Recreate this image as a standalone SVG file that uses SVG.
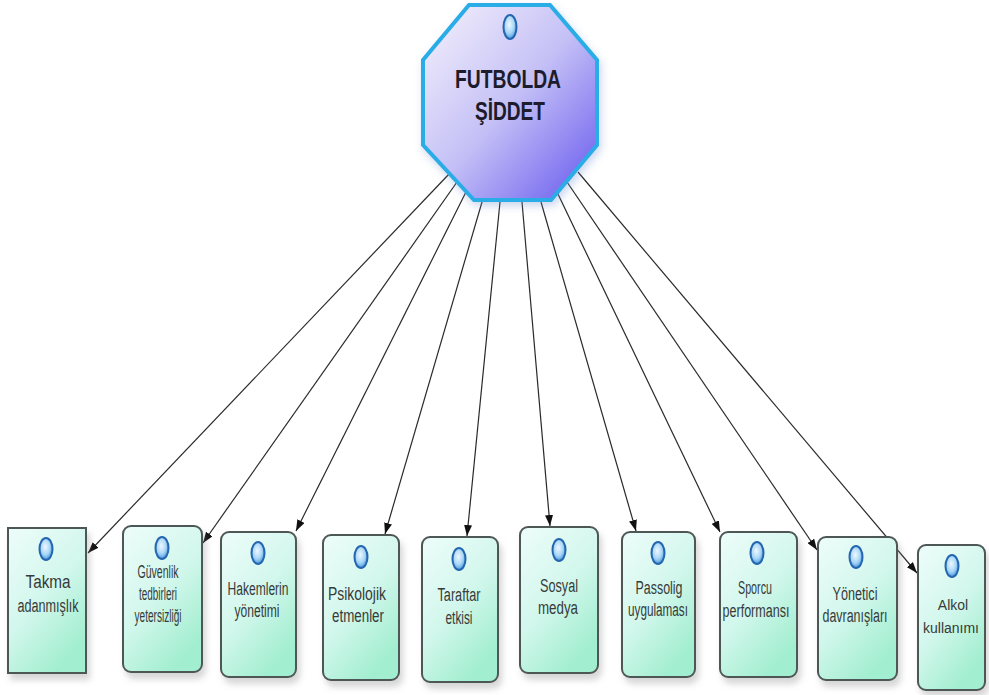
<svg xmlns="http://www.w3.org/2000/svg" width="989" height="695" viewBox="0 0 989 695">
<defs>
  <linearGradient id="octFill" x1="0" y1="0" x2="1" y2="1">
    <stop offset="0" stop-color="#f6f2fc"/>
    <stop offset="0.5" stop-color="#c4c0f6"/>
    <stop offset="1" stop-color="#6656ee"/>
  </linearGradient>
  <linearGradient id="boxFill" x1="0" y1="0" x2="0.6" y2="1">
    <stop offset="0" stop-color="#eefdfa"/>
    <stop offset="0.55" stop-color="#d2f7ec"/>
    <stop offset="1" stop-color="#a2eed0"/>
  </linearGradient>
  <radialGradient id="iconFill" cx="0.45" cy="0.4" r="0.6">
    <stop offset="0" stop-color="#eef8ff"/>
    <stop offset="0.6" stop-color="#a8d6f6"/>
    <stop offset="1" stop-color="#4a98dc"/>
  </radialGradient>
  <filter id="shadow" x="-20%" y="-20%" width="150%" height="150%">
    <feDropShadow dx="3" dy="6" stdDeviation="3" flood-color="#8a8a8a" flood-opacity="0.35"/>
  </filter>
  <filter id="glow" x="-20%" y="-20%" width="140%" height="140%">
    <feDropShadow dx="2" dy="4" stdDeviation="4" flood-color="#6a8ad0" flood-opacity="0.35"/>
  </filter>
  <marker id="arrow" markerUnits="userSpaceOnUse" markerWidth="11" markerHeight="8" refX="11" refY="4" orient="auto">
    <path d="M0,0 L11,4 L0,8 z" fill="#111"/>
  </marker>
  <style>
    .box { fill: url(#boxFill); stroke: #4d5856; stroke-width: 2; filter: url(#shadow); }
    .icon { fill: url(#iconFill); stroke: #2566b0; stroke-width: 2; }
    .lbl { font-family: "Liberation Sans", Arial, sans-serif; font-size: 18px; fill: #363b3a; text-anchor: middle; }
    .sm { font-size: 14px; }
    .title { font-family: "Liberation Sans", Arial, sans-serif; font-size: 25px; font-weight: bold; fill: #1c1c2c; text-anchor: middle; }
    .conn { stroke: #2a2a2a; stroke-width: 1.2; fill: none; marker-end: url(#arrow); }
  </style>
</defs>
<rect width="989" height="695" fill="#ffffff"/>

<g id="connectors">
  <line class="conn" x1="450" y1="173" x2="88" y2="553"/>
  <line class="conn" x1="457" y1="182" x2="203" y2="543"/>
  <line class="conn" x1="466" y1="192" x2="296" y2="531"/>
  <line class="conn" x1="482" y1="202" x2="385" y2="534"/>
  <line class="conn" x1="500" y1="202" x2="467" y2="536"/>
  <line class="conn" x1="522" y1="202" x2="550" y2="526"/>
  <line class="conn" x1="541" y1="202" x2="636" y2="531"/>
  <line class="conn" x1="557" y1="192" x2="720" y2="532"/>
  <line class="conn" x1="567" y1="182" x2="817" y2="550"/>
  <line class="conn" x1="578" y1="172" x2="917" y2="573"/>
</g>

<g id="root">
  <polygon points="469,5 550,5 597,60 597,145 551,200 474,200 423,145 423,60" fill="url(#octFill)" stroke="#29ace6" stroke-width="4" filter="url(#glow)"/>
  <ellipse class="icon" cx="510" cy="27" rx="6.5" ry="12"/>
  <text class="title" x="508" y="88" textLength="106" lengthAdjust="spacingAndGlyphs">FUTBOLDA</text>
  <text class="title" x="510" y="120" textLength="70" lengthAdjust="spacingAndGlyphs">ŞİDDET</text>
</g>

<g id="n1">
  <rect class="box" x="8" y="528" width="78" height="145"/>
  <ellipse class="icon" cx="46" cy="549" rx="6.5" ry="11"/>
  <text class="lbl" x="48" y="588" textLength="45" lengthAdjust="spacingAndGlyphs">Takma</text>
  <text class="lbl" x="48" y="612" textLength="61" lengthAdjust="spacingAndGlyphs">adanmışlık</text>
</g>

<g id="n2">
  <rect class="box" x="123" y="526" width="79" height="146" rx="8"/>
  <ellipse class="icon" cx="162" cy="548" rx="6.5" ry="11"/>
  <text class="lbl" x="158" y="578" textLength="41" lengthAdjust="spacingAndGlyphs">Güvenlik</text>
  <text class="lbl" x="158" y="600" textLength="38" lengthAdjust="spacingAndGlyphs">tedbirleri</text>
  <text class="lbl" x="158" y="622" textLength="47" lengthAdjust="spacingAndGlyphs">yetersizliği</text>
</g>

<g id="n3">
  <rect class="box" x="221" y="532" width="75" height="145" rx="8"/>
  <ellipse class="icon" cx="258" cy="553" rx="6.5" ry="11"/>
  <text class="lbl" x="258" y="595" textLength="61" lengthAdjust="spacingAndGlyphs">Hakemlerin</text>
  <text class="lbl" x="257" y="617" textLength="45" lengthAdjust="spacingAndGlyphs">yönetimi</text>
</g>

<g id="n4">
  <rect class="box" x="323" y="535" width="76" height="145" rx="8"/>
  <ellipse class="icon" cx="361" cy="557" rx="6.5" ry="11"/>
  <text class="lbl" x="357" y="600" textLength="58" lengthAdjust="spacingAndGlyphs">Psikolojik</text>
  <text class="lbl" x="358" y="622" textLength="52" lengthAdjust="spacingAndGlyphs">etmenler</text>
</g>

<g id="n5">
  <rect class="box" x="422" y="537" width="76" height="145" rx="8"/>
  <ellipse class="icon" cx="459" cy="559" rx="6.5" ry="11"/>
  <text class="lbl" x="459" y="601" textLength="43" lengthAdjust="spacingAndGlyphs">Taraftar</text>
  <text class="lbl" x="459" y="624" textLength="27" lengthAdjust="spacingAndGlyphs">etkisi</text>
</g>

<g id="n6">
  <rect class="box" x="520" y="527" width="78" height="146" rx="8"/>
  <ellipse class="icon" cx="559" cy="550" rx="6.5" ry="11"/>
  <text class="lbl" x="559" y="592" textLength="38" lengthAdjust="spacingAndGlyphs">Sosyal</text>
  <text class="lbl" x="558" y="614" textLength="40" lengthAdjust="spacingAndGlyphs">medya</text>
</g>

<g id="n7">
  <rect class="box" x="622" y="532" width="73" height="145" rx="8"/>
  <ellipse class="icon" cx="658" cy="553" rx="6.5" ry="11"/>
  <text class="lbl" x="659" y="594" textLength="47" lengthAdjust="spacingAndGlyphs">Passolig</text>
  <text class="lbl" x="658" y="616" textLength="60" lengthAdjust="spacingAndGlyphs">uygulaması</text>
</g>

<g id="n8">
  <rect class="box" x="720" y="532" width="77" height="145" rx="8"/>
  <ellipse class="icon" cx="757" cy="553" rx="6.5" ry="11"/>
  <text class="lbl" x="755" y="594" textLength="34" lengthAdjust="spacingAndGlyphs">Sporcu</text>
  <text class="lbl" x="756" y="617" textLength="67" lengthAdjust="spacingAndGlyphs">performansı</text>
</g>

<g id="n9">
  <rect class="box" x="818" y="537" width="79" height="143" rx="8"/>
  <ellipse class="icon" cx="856" cy="557" rx="6.5" ry="11"/>
  <text class="lbl" x="855" y="600" textLength="45" lengthAdjust="spacingAndGlyphs">Yönetici</text>
  <text class="lbl" x="855" y="622" textLength="65" lengthAdjust="spacingAndGlyphs">davranışları</text>
</g>

<g id="n10">
  <rect class="box" x="918" y="545" width="67" height="145" rx="8"/>
  <ellipse class="icon" cx="952" cy="566" rx="6.5" ry="11"/>
  <text class="lbl sm" x="953" y="610">Alkol</text>
  <text class="lbl sm" x="951" y="633">kullanımı</text>
</g>
</svg>
